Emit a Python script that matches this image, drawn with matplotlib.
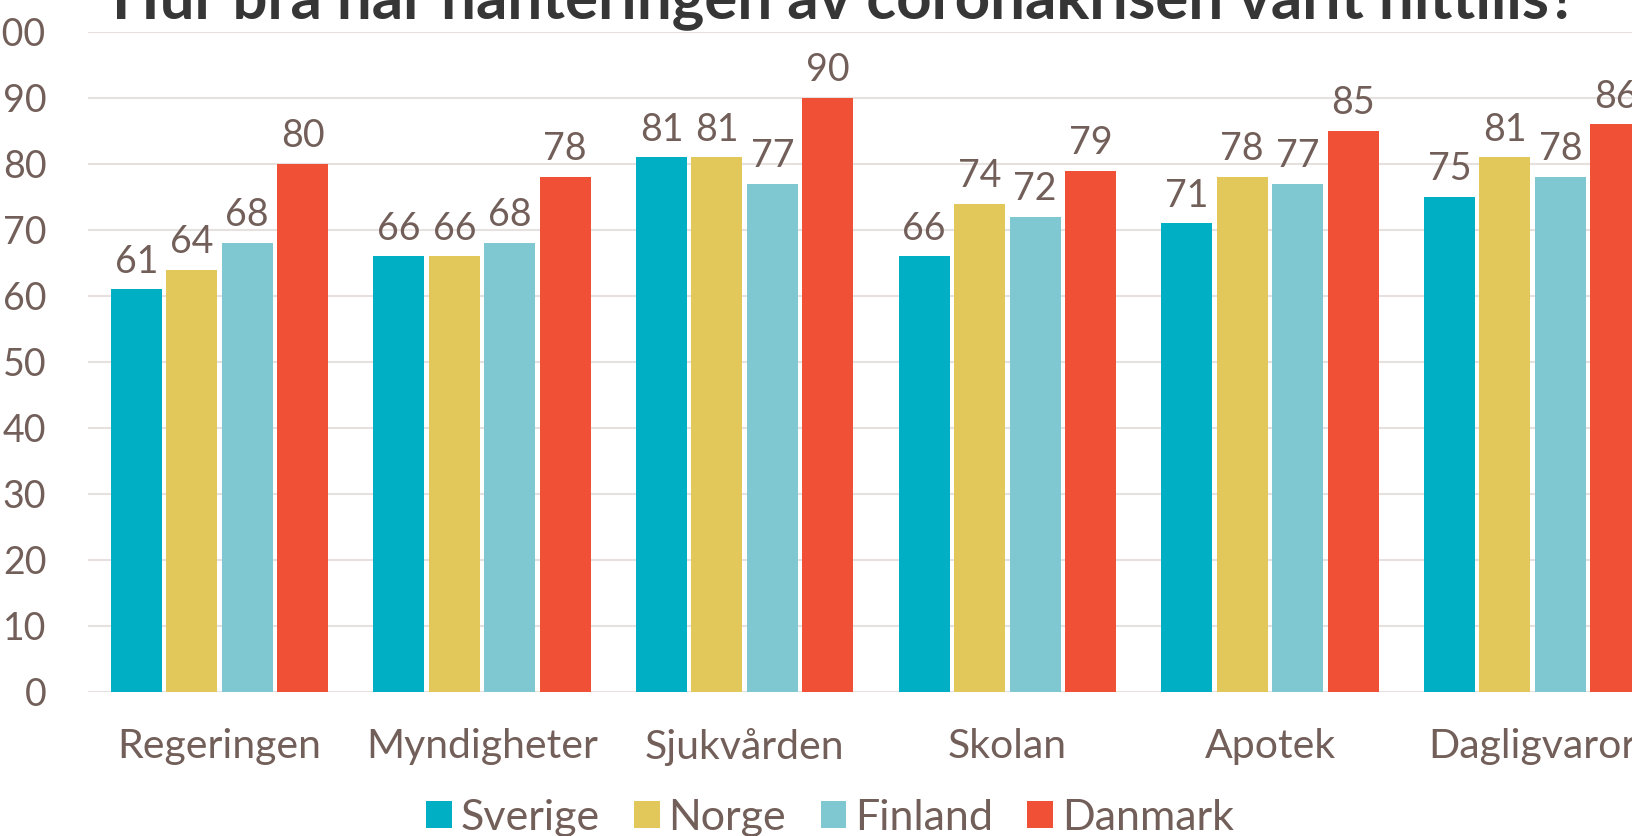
import matplotlib.pyplot as plt
import numpy as np

# data
categories = ['Regeringen', 'Myndigheter', 'Sjukvården', 'Skolan', 'Apotek', 'Dagligvaror']
sverige = [61, 66, 81, 66, 71, 75]
norge = [64, 66, 81, 74, 78, 81]
finland = [68, 68, 77, 72, 77, 78]
danmark = [80, 78, 90, 79, 85, 86]
series_names = ['Sverige', 'Norge', 'Finland', 'Danmark']
y_ticks = [0, 10, 20, 30, 40, 50, 60, 70, 80, 90, 100]

colors = ['#00AFC3', '#E2C75B', '#7FC8D2', '#F05136']
text_color = '#725F59'

plt.rcParams['font.family'] = ['Lato', 'DejaVu Sans']

fig = plt.figure(figsize=(16.32, 8.36), dpi=100)
W, H = 1632, 836
# axes deliberately run past the right edge, like the cropped original
ax = fig.add_axes([88 / W, 1 - 692 / H, 1576 / W, 660 / H])

x = np.arange(len(categories))
bar_w = 0.194
step = 0.211
all_series = [sverige, norge, finland, danmark]

for i, (name, vals) in enumerate(zip(series_names, all_series)):
    pos = x + (i - 1.5) * step
    bars = ax.bar(pos, vals, width=bar_w, color=colors[i], label=name, zorder=3)
    for b, v in zip(bars, vals):
        ax.annotate(str(v), (b.get_x() + b.get_width() / 2, v),
                    xytext=(0, 7), textcoords='offset points',
                    ha='center', va='bottom', fontsize=27, color=text_color)

ax.set_xlim(-0.5, len(categories) - 0.5)
ax.set_ylim(0, 100)
ax.set_yticks(y_ticks)
ax.set_xticks(x)
ax.set_xticklabels(categories)
ax.tick_params(axis='y', length=0, pad=30, labelsize=27, labelcolor=text_color)
ax.tick_params(axis='x', length=0, pad=26, labelsize=29.5, labelcolor=text_color)

ax.grid(axis='y', color='#E6E0DE', linewidth=1.5, zorder=0)
for s in ax.spines.values():
    s.set_visible(False)

fig.text(845 / W, 1 - 18 / H, 'Hur bra har hanteringen av coronakrisen varit hittills?',
         ha='center', va='baseline', fontsize=44.5, fontweight='bold', color='#363636')

leg = fig.legend(loc='center', bbox_to_anchor=(830 / W, 1 - 818 / H), ncol=4,
                 frameon=False, fontsize=31, handlelength=0.6, handleheight=0.6,
                 handletextpad=0.2, columnspacing=0.8, borderaxespad=0)
for t in leg.get_texts():
    t.set_color(text_color)

fig.savefig('out.png', dpi=100)
